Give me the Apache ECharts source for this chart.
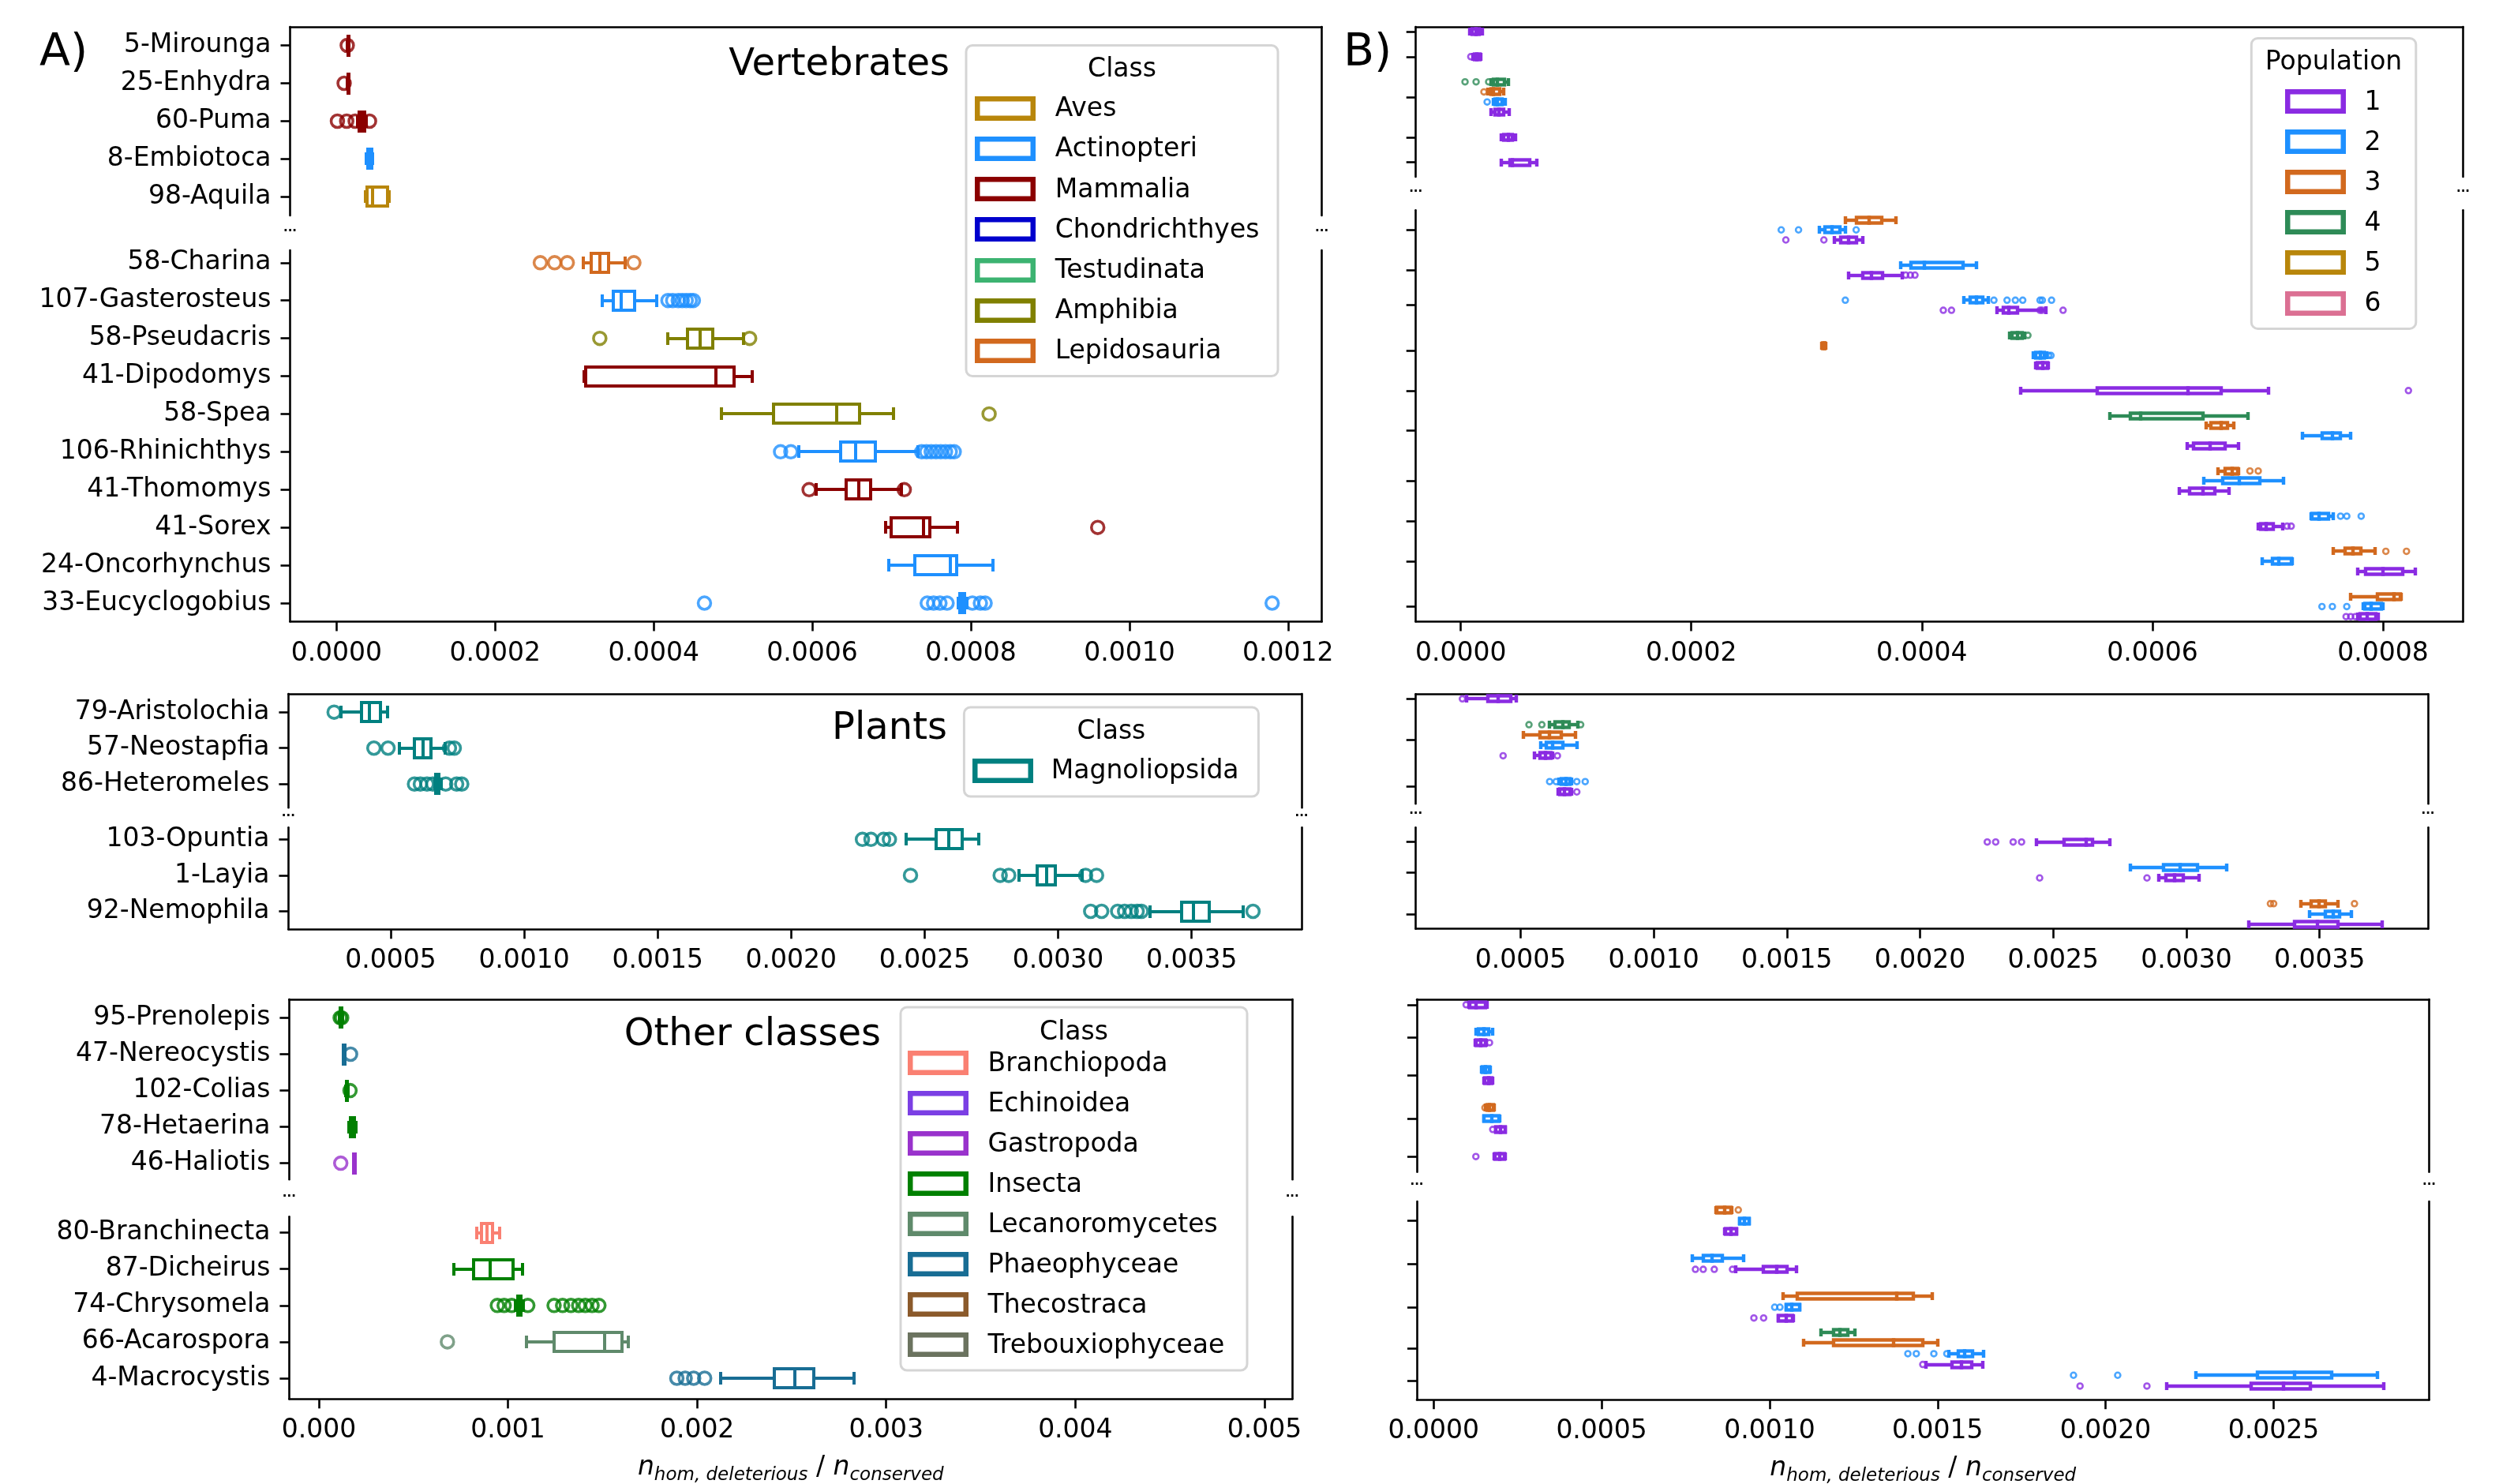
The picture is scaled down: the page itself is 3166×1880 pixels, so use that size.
<!DOCTYPE html>
<html>
<head>
<meta charset="utf-8">
<title>Homozygous deleterious load</title>
<script src="https://cdn.jsdelivr.net/npm/echarts@6/dist/echarts.min.js"></script>
<style>
  html, body { margin: 0; padding: 0; background: #fff; }
  #main { width: 3166px; height: 1880px; }
</style>
</head>
<body>
<div id="main"></div>
<script>
// ---------------- data ----------------
// Panel A: one box per species -> [min, q1, median, q3, max]
const vertTopNames = ['5-Mirounga', '25-Enhydra', '60-Puma', '8-Embiotoca', '98-Aquila'];
const vertTopClass = ['Mammalia', 'Mammalia', 'Mammalia', 'Actinopteri', 'Aves'];
const vertTopStats = [
  [0.0000140, 0.0000145, 0.0000150, 0.0000155, 0.0000160],
  [0.0000140, 0.0000145, 0.0000149, 0.0000152, 0.0000156],
  [0.0000270, 0.0000285, 0.0000320, 0.0000355, 0.0000375],
  [0.0000375, 0.0000390, 0.0000415, 0.0000440, 0.0000455],
  [0.0000365, 0.0000385, 0.0000450, 0.0000640, 0.0000665]
];
const vertTopOutliers = [
  [0.0000135],
  [0.0000096],
  [0.0000011, 0.0000128, 0.0000235, 0.0000416],
  [],
  []
];

const vertBotNames = ['58-Charina', '107-Gasterosteus', '58-Pseudacris', '41-Dipodomys', '58-Spea',
  '106-Rhinichthys', '41-Thomomys', '41-Sorex', '24-Oncorhynchus', '33-Eucyclogobius'];
const vertBotClass = ['Lepidosauria', 'Actinopteri', 'Amphibia', 'Mammalia', 'Amphibia',
  'Actinopteri', 'Mammalia', 'Mammalia', 'Actinopteri', 'Actinopteri'];
const vertBotStats = [
  [0.000311, 0.000321, 0.000332, 0.000343, 0.000364],
  [0.000335, 0.000349, 0.000359, 0.000376, 0.000404],
  [0.000418, 0.000443, 0.000459, 0.000474, 0.000513],
  [0.000312, 0.000314, 0.000478, 0.000501, 0.000524],
  [0.000485, 0.000551, 0.000631, 0.000660, 0.000702],
  [0.000583, 0.000636, 0.000655, 0.000680, 0.000733],
  [0.000605, 0.000643, 0.000659, 0.000674, 0.000712],
  [0.000692, 0.000699, 0.000740, 0.000748, 0.000783],
  [0.000696, 0.000729, 0.000774, 0.000782, 0.000828],
  [0.000784, 0.000786, 0.000790, 0.000792, 0.000795]
];
const vertBotOutliers = [
  [0.000257, 0.000275, 0.000291, 0.000375],
  [0.000418, 0.000424, 0.000431, 0.000436, 0.000441, 0.000446, 0.000450],
  [0.000332, 0.000521],
  [],
  [0.000823],
  [0.000560, 0.000573, 0.000738, 0.000744, 0.000750, 0.000756, 0.000762, 0.000768, 0.000774, 0.000779],
  [0.000596, 0.000716],
  [0.000960],
  [],
  [0.000464, 0.000745, 0.000753, 0.000761, 0.000770, 0.000802, 0.000812, 0.000818, 0.001180]
];

const plantTopNames = ['79-Aristolochia', '57-Neostapfia', '86-Heteromeles'];
const plantTopClass = ['Magnoliopsida', 'Magnoliopsida', 'Magnoliopsida'];
const plantTopStats = [
  [0.000313, 0.000392, 0.000421, 0.000462, 0.000487],
  [0.000532, 0.000589, 0.000620, 0.000652, 0.000705],
  [0.000665, 0.000669, 0.000674, 0.000680, 0.000688]
];
const plantTopOutliers = [
  [0.000288],
  [0.000437, 0.000490, 0.000720, 0.000738],
  [0.000589, 0.000611, 0.000636, 0.000658, 0.000706, 0.000747, 0.000766]
];

const plantBotNames = ['103-Opuntia', '1-Layia', '92-Nemophila'];
const plantBotClass = ['Magnoliopsida', 'Magnoliopsida', 'Magnoliopsida'];
const plantBotStats = [
  [0.002432, 0.002543, 0.002590, 0.002641, 0.002704],
  [0.002853, 0.002922, 0.002957, 0.002989, 0.003090],
  [0.003344, 0.003464, 0.003508, 0.003565, 0.003692]
];
const plantBotOutliers = [
  [0.002267, 0.002299, 0.002346, 0.002368],
  [0.002447, 0.002783, 0.002815, 0.003103, 0.003144],
  [0.003122, 0.003163, 0.003223, 0.003249, 0.003274, 0.003296, 0.003312, 0.003730]
];

const otherTopNames = ['95-Prenolepis', '47-Nereocystis', '102-Colias', '78-Hetaerina', '46-Haliotis'];
const otherTopClass = ['Insecta', 'Phaeophyceae', 'Insecta', 'Insecta', 'Gastropoda'];
const otherTopStats = [
  [0.000110, 0.000114, 0.000118, 0.000122, 0.000126],
  [0.000128, 0.000131, 0.000134, 0.000137, 0.000140],
  [0.000143, 0.000146, 0.000148, 0.000151, 0.000154],
  [0.000160, 0.000168, 0.000180, 0.000190, 0.000198],
  [0.000183, 0.000185, 0.000188, 0.000191, 0.000193]
];
const otherTopOutliers = [
  [0.000113, 0.000121],
  [0.000168],
  [0.000165],
  [],
  [0.000116]
];

const otherBotNames = ['80-Branchinecta', '87-Dicheirus', '74-Chrysomela', '66-Acarospora', '4-Macrocystis'];
const otherBotClass = ['Branchiopoda', 'Insecta', 'Insecta', 'Lecanoromycetes', 'Phaeophyceae'];
const otherBotStats = [
  [0.000835, 0.000860, 0.000890, 0.000920, 0.000955],
  [0.000716, 0.000819, 0.000908, 0.001025, 0.001078],
  [0.001040, 0.001052, 0.001060, 0.001068, 0.001080],
  [0.001100, 0.001244, 0.001512, 0.001602, 0.001638],
  [0.002125, 0.002407, 0.002519, 0.002617, 0.002832]
];
const otherBotOutliers = [
  [],
  [],
  [0.000944, 0.000980, 0.001020, 0.001105, 0.001244, 0.001289, 0.001333, 0.001374, 0.001409, 0.001445, 0.001481],
  [0.000680],
  [0.001893, 0.001937, 0.001982, 0.002040]
];

// Panel B: one box per population -> [species, population, min, q1, median, q3, max]
const popVertTop = [
  [0, 1, 0.0000076, 0.0000100, 0.0000133, 0.0000160, 0.0000190],
  [1, 1, 0.0000105, 0.0000120, 0.0000140, 0.0000165, 0.0000174],
  [2, 4, 0.0000260, 0.0000280, 0.0000320, 0.0000380, 0.0000410],
  [2, 3, 0.0000235, 0.0000260, 0.0000285, 0.0000340, 0.0000370],
  [2, 2, 0.0000280, 0.0000300, 0.0000320, 0.0000360, 0.0000388],
  [2, 1, 0.0000260, 0.0000294, 0.0000330, 0.0000374, 0.0000420],
  [3, 1, 0.0000350, 0.0000370, 0.0000412, 0.0000450, 0.0000475],
  [4, 1, 0.0000350, 0.0000430, 0.0000450, 0.0000600, 0.0000658]
];
// [species, population, value]
const popVertTopOut = [
  [1, 1, 0.0000087], [2, 4, 0.0000037], [2, 4, 0.0000133], [2, 4, 0.0000242],
  [2, 3, 0.0000201], [2, 2, 0.0000229]
];

const popVertBot = [
  [0, 3, 0.0003336, 0.0003436, 0.0003543, 0.0003650, 0.0003775],
  [0, 2, 0.0003113, 0.0003160, 0.0003220, 0.0003290, 0.0003335],
  [0, 1, 0.0003238, 0.0003293, 0.0003364, 0.0003436, 0.0003488],
  [1, 2, 0.0003818, 0.0003907, 0.0004020, 0.0004357, 0.0004471],
  [1, 1, 0.0003364, 0.0003489, 0.0003561, 0.0003661, 0.0003830],
  [2, 2, 0.0004364, 0.0004418, 0.0004471, 0.0004525, 0.0004579],
  [2, 1, 0.0004650, 0.0004704, 0.0004757, 0.0004829, 0.0005079],
  [3, 4, 0.0004760, 0.0004780, 0.0004830, 0.0004870, 0.0004890],
  [3, 3, 0.0003132, 0.0003138, 0.0003150, 0.0003162, 0.0003168],
  [3, 2, 0.0004970, 0.0004990, 0.0005025, 0.0005060, 0.0005080],
  [3, 1, 0.0004990, 0.0005000, 0.0005050, 0.0005090, 0.0005100],
  [4, 1, 0.0004854, 0.0005518, 0.0006311, 0.0006596, 0.0007007],
  [5, 4, 0.0005632, 0.0005811, 0.0005900, 0.0006436, 0.0006829],
  [5, 3, 0.0006464, 0.0006507, 0.0006596, 0.0006650, 0.0006704],
  [5, 2, 0.0007304, 0.0007471, 0.0007561, 0.0007632, 0.0007721],
  [5, 1, 0.0006300, 0.0006357, 0.0006500, 0.0006632, 0.0006750],
  [6, 3, 0.0006568, 0.0006632, 0.0006693, 0.0006740, 0.0006750],
  [6, 2, 0.0006446, 0.0006607, 0.0006757, 0.0006929, 0.0007139],
  [6, 1, 0.0006232, 0.0006321, 0.0006436, 0.0006543, 0.0006668],
  [7, 2, 0.0007375, 0.0007385, 0.0007443, 0.0007525, 0.0007571],
  [7, 1, 0.0006918, 0.0006936, 0.0006989, 0.0007050, 0.0007132],
  [8, 3, 0.0007568, 0.0007668, 0.0007739, 0.0007811, 0.0007929],
  [8, 2, 0.0006954, 0.0007043, 0.0007096, 0.0007204, 0.0007211],
  [8, 1, 0.0007782, 0.0007846, 0.0008000, 0.0008168, 0.0008282],
  [9, 3, 0.0007721, 0.0007954, 0.0008096, 0.0008150, 0.0008160],
  [9, 2, 0.0007829, 0.0007845, 0.0007900, 0.0007989, 0.0008000],
  [9, 1, 0.0007780, 0.0007800, 0.0007860, 0.0007940, 0.0007960]
];
const popVertBotOut = [
  [0, 2, 0.000278], [0, 2, 0.000293], [0, 2, 0.000343], [0, 1, 0.000282], [0, 1, 0.000315],
  [1, 1, 0.000386], [1, 1, 0.000390], [1, 1, 0.000394],
  [2, 2, 0.0003336], [2, 2, 0.0004625], [2, 2, 0.0004739], [2, 2, 0.0004811], [2, 2, 0.0004875],
  [2, 2, 0.0005025], [2, 2, 0.0005045], [2, 2, 0.0005125],
  [2, 1, 0.0004186], [2, 1, 0.0004257], [2, 1, 0.0005025], [2, 1, 0.0005043], [2, 1, 0.0005225],
  [3, 4, 0.000492], [3, 2, 0.000510], [3, 2, 0.000512],
  [4, 1, 0.0008221],
  [6, 3, 0.0006846], [6, 3, 0.0006918],
  [7, 2, 0.0007632], [7, 2, 0.0007686], [7, 2, 0.0007811], [7, 1, 0.0007168], [7, 1, 0.0007204],
  [8, 3, 0.0008025], [8, 3, 0.0008204],
  [9, 2, 0.0007471], [9, 2, 0.0007561], [9, 2, 0.0007686],
  [9, 1, 0.000768], [9, 1, 0.000772], [9, 1, 0.000776]
];

const popPlantTop = [
  [0, 1, 0.0002985, 0.0003786, 0.0004150, 0.0004636, 0.0004830],
  [1, 4, 0.0006092, 0.0006286, 0.0006578, 0.0006820, 0.0007150],
  [1, 3, 0.0005121, 0.0005728, 0.0006092, 0.0006529, 0.0007063],
  [1, 2, 0.0005752, 0.0005971, 0.0006214, 0.0006578, 0.0007112],
  [1, 1, 0.0005510, 0.0005728, 0.0005922, 0.0006141, 0.0006214],
  [2, 2, 0.0006450, 0.0006529, 0.0006699, 0.0006869, 0.0006900],
  [2, 1, 0.0006400, 0.0006456, 0.0006650, 0.0006869, 0.0006900]
];
const popPlantTopOut = [
  [0, 1, 0.0002816],
  [1, 4, 0.0005316], [1, 4, 0.0005801], [1, 4, 0.0007257],
  [1, 1, 0.0004345], [1, 1, 0.0006384],
  [2, 2, 0.0006092], [2, 2, 0.0006335], [2, 2, 0.0007112], [2, 2, 0.0007427],
  [2, 1, 0.0007112]
];

const popPlantBot = [
  [0, 1, 0.0024370, 0.0025413, 0.0026238, 0.0026480, 0.0027136],
  [1, 2, 0.0027888, 0.0029151, 0.0029757, 0.0030413, 0.0031505],
  [1, 1, 0.0028957, 0.0029224, 0.0029563, 0.0029879, 0.0030486],
  [2, 3, 0.0034297, 0.0034685, 0.0034976, 0.0035218, 0.0035704],
  [2, 2, 0.0034636, 0.0035218, 0.0035510, 0.0035752, 0.0036190],
  [2, 1, 0.0032355, 0.0034054, 0.0034927, 0.0035704, 0.0037355]
];
const popPlantBotOut = [
  [0, 1, 0.0022524], [0, 1, 0.0022840], [0, 1, 0.0023495], [0, 1, 0.0023811],
  [1, 1, 0.0024490], [1, 1, 0.0028520],
  [2, 3, 0.0033155], [2, 3, 0.0033277], [2, 3, 0.0036311]
];

const popOtherTop = [
  [0, 1, 0.0001050, 0.0001083, 0.0001257, 0.0001547, 0.0001580],
  [1, 2, 0.0001257, 0.0001334, 0.0001489, 0.0001643, 0.0001760],
  [1, 1, 0.0001240, 0.0001257, 0.0001392, 0.0001547, 0.0001560],
  [2, 2, 0.0001430, 0.0001450, 0.0001550, 0.0001663, 0.0001680],
  [2, 1, 0.0001500, 0.0001527, 0.0001630, 0.0001740, 0.0001760],
  [3, 3, 0.0001550, 0.0001580, 0.0001660, 0.0001780, 0.0001800],
  [3, 2, 0.0001490, 0.0001508, 0.0001730, 0.0001953, 0.0001970],
  [3, 1, 0.0001840, 0.0001856, 0.0002000, 0.0002127, 0.0002140],
  [4, 1, 0.0001800, 0.0001817, 0.0001960, 0.0002108, 0.0002120]
];
const popOtherTopOut = [
  [0, 1, 0.0000967], [1, 1, 0.0001663], [3, 3, 0.0001527], [3, 1, 0.0001759], [4, 1, 0.0001257]
];

const popOtherBot = [
  [0, 3, 0.0008400, 0.0008430, 0.0008662, 0.0008855, 0.0008880],
  [0, 2, 0.0009100, 0.0009107, 0.0009250, 0.0009397, 0.0009400],
  [0, 1, 0.0008670, 0.0008681, 0.0008850, 0.0009010, 0.0009020],
  [1, 2, 0.0007695, 0.0008024, 0.0008275, 0.0008585, 0.0009223],
  [1, 1, 0.0008991, 0.0009822, 0.0010209, 0.0010518, 0.0010790],
  [2, 3, 0.0010402, 0.0010828, 0.0013786, 0.0014269, 0.0014849],
  [2, 2, 0.0010499, 0.0010500, 0.0010654, 0.0010886, 0.0010900],
  [2, 1, 0.0010267, 0.0010270, 0.0010499, 0.0010692, 0.0010700],
  [3, 4, 0.0011524, 0.0011910, 0.0012104, 0.0012336, 0.0012529],
  [3, 3, 0.0011021, 0.0011910, 0.0013689, 0.0014559, 0.0015004],
  [3, 2, 0.0015333, 0.0015623, 0.0015816, 0.0016048, 0.0016357],
  [3, 1, 0.0014656, 0.0015430, 0.0015720, 0.0016010, 0.0016338],
  [4, 2, 0.0022680, 0.0024517, 0.0025619, 0.0026740, 0.0028094],
  [4, 1, 0.0021810, 0.0024323, 0.0025290, 0.0026102, 0.0028287]
];
const popOtherBotOut = [
  [0, 3, 0.0009068],
  [1, 1, 0.0007792], [1, 1, 0.0008024], [1, 1, 0.0008353], [1, 1, 0.0008894],
  [2, 2, 0.0010151], [2, 2, 0.0010306], [2, 1, 0.0009532], [2, 1, 0.0009822],
  [3, 2, 0.0014115], [3, 2, 0.0014366], [3, 2, 0.0014888], [3, 2, 0.0015275], [3, 1, 0.0014559],
  [4, 2, 0.0019045], [4, 2, 0.0020360], [4, 1, 0.0019239], [4, 1, 0.0021230]
];

// legend entries and axis ticks
const vertClasses = ['Aves', 'Actinopteri', 'Mammalia', 'Chondrichthyes', 'Testudinata', 'Amphibia', 'Lepidosauria'];
const plantClasses = ['Magnoliopsida'];
const otherClasses = ['Branchiopoda', 'Echinoidea', 'Gastropoda', 'Insecta', 'Lecanoromycetes', 'Phaeophyceae', 'Thecostraca', 'Trebouxiophyceae'];
const populations = ['1', '2', '3', '4', '5', '6'];

const ticksVert = [0, 0.0002, 0.0004, 0.0006, 0.0008, 0.0010, 0.0012];
const ticksPlant = [0.0005, 0.0010, 0.0015, 0.0020, 0.0025, 0.0030, 0.0035];
const ticksOther = [0, 0.001, 0.002, 0.003, 0.004, 0.005];
const ticksPopVert = [0, 0.0002, 0.0004, 0.0006, 0.0008];
const ticksPopPlant = [0.0005, 0.0010, 0.0015, 0.0020, 0.0025, 0.0030, 0.0035];
const ticksPopOther = [0, 0.0005, 0.0010, 0.0015, 0.0020, 0.0025];

// ---------------- styles ----------------
const FONT = 'DejaVu Sans';
const classColor = {
  Aves: '#b8860b', Actinopteri: '#1e90ff', Mammalia: '#8b0000', Chondrichthyes: '#0000cd',
  Testudinata: '#3cb371', Amphibia: '#808000', Lepidosauria: '#d2691e',
  Magnoliopsida: '#008080',
  Branchiopoda: '#fa8072', Echinoidea: '#7b3fe4', Gastropoda: '#9932cc', Insecta: '#008000',
  Lecanoromycetes: '#5f8a6b', Phaeophyceae: '#186d94', Thecostraca: '#8b5a2b', Trebouxiophyceae: '#6b735f'
};
const popColor = { 1: '#8a2be2', 2: '#1e90ff', 3: '#d2691e', 4: '#2e8b57', 5: '#b8860b', 6: '#db7093' };
// lw: stroke width; box: box height (centre of top edge to centre of bottom edge); ring: outlier ring width
const sizeA = { lw: 4, box: 24, cap: 16, dot: 19.5, ring: 3.6 };
const sizeB = { lw: 4.4, box: 7, cap: 10, dot: 9.5, ring: 2.6 };
const spine = { color: '#000', width: 2.6 };
const tickFont = { fontSize: 33, fontFamily: FONT, color: '#000' };

// open circle as a filled ring path (inner radius set by ring width)
function ringSymbol(s) {
  const ri = (50 * (1 - 2 * s.ring / s.dot)).toFixed(2);
  const a = (50 - ri).toFixed(2), b = (50 + +ri).toFixed(2);
  return 'path://M50,0 A50,50 0 1,1 50,100 A50,50 0 1,1 50,0 Z ' +
    'M50,' + a + ' A' + ri + ',' + ri + ' 0 1,0 50,' + b + ' A' + ri + ',' + ri + ' 0 1,0 50,' + a + ' Z';
}

// ---------------- layout helpers ----------------
// y positions of population boxes: pops of a species stacked, species separated by a gap
function popLayout(boxes, nSpecies, gaps) {
  const slot = {}, centers = [];
  let pos = 0;
  for (let s = 0; s < nSpecies; s++) {
    const pops = [...new Set(boxes.filter(b => b[0] === s).map(b => b[1]))].sort((a, b) => b - a);
    if (s > 0) pos += gaps ? gaps[s - 1] : 2.5;
    pops.forEach((p, i) => { slot[s + '_' + p] = pos + i; });
    centers.push(pos + (pops.length - 1) / 2);
    pos += pops.length - 1;
  }
  return { slot, centers };
}

function speciesPart(names, cls, stats, outs) {
  return {
    yTicks: names.map((_, i) => i),
    yLabels: names,
    boxData: stats.map((s, i) => [i].concat(s)),
    boxColors: cls.map(c => classColor[c]),
    outData: outs.flatMap((arr, i) => arr.map(v => ({ value: [v, i], itemStyle: { color: classColor[cls[i]] } }))),
    size: sizeA
  };
}

function popPart(boxes, outs, nSpecies, gaps) {
  const lay = popLayout(boxes, nSpecies, gaps);
  return {
    yTicks: lay.centers,
    yLabels: null,
    boxData: boxes.map(b => [lay.slot[b[0] + '_' + b[1]]].concat(b.slice(2))),
    boxColors: boxes.map(b => popColor[b[1]]),
    outData: outs.map(o => ({ value: [o[2], lay.slot[o[0] + '_' + o[1]]], itemStyle: { color: popColor[o[1]] } })),
    size: sizeB
  };
}

// box + whiskers built from filled bars
function boxRenderer(colors, s) {
  return function (params, api) {
    const yv = api.value(0);
    const px = k => Math.round(api.coord([api.value(k), yv])[0]);
    const xMin = px(1), xQ1 = px(2), xMed = px(3), xQ3 = px(4), xMax = px(5);
    const yc = Math.round(api.coord([api.value(1), yv])[1]);
    const c = colors[params.dataIndex];
    const hw = s.lw / 2, bh = s.box / 2, ch = s.cap / 2;
    const bar = (x, y, w, h, fill) => ({ type: 'rect', shape: { x, y, width: w, height: h }, style: { fill } });
    const parts = [
      bar(xMin, yc - hw, Math.max(xQ1 - xMin, 0), s.lw, c),
      bar(xQ3, yc - hw, Math.max(xMax - xQ3, 0), s.lw, c),
      bar(xMin - hw, yc - ch, s.lw, s.cap, c),
      bar(xMax - hw, yc - ch, s.lw, s.cap, c),
      bar(xQ1 - hw, yc - bh - hw, xQ3 - xQ1 + s.lw, s.box + s.lw, c)
    ];
    if (xQ3 - xQ1 > s.lw) parts.push(bar(xQ1 + hw, yc - bh + hw, xQ3 - xQ1 - s.lw, s.box - s.lw, '#fff'));
    parts.push(bar(xMed - hw, yc - bh - hw, s.lw, s.box + s.lw, c));
    return { type: 'group', children: parts };
  };
}

const axisName = {
  name: '{i|n}{s|hom, deleterious}{t| / }{i|n}{s|conserved}',
  nameLocation: 'middle',
  nameGap: 67,
  nameTextStyle: {
    rich: {
      i: { fontSize: 33, fontStyle: 'italic', fontFamily: FONT, color: '#000' },
      s: { fontSize: 23, fontStyle: 'italic', fontFamily: FONT, color: '#000', padding: [18, 0, 0, 0] },
      t: { fontSize: 33, fontFamily: FONT, color: '#000' }
    }
  }
};

// [left, top, right, bottom] of every sub-axes, value ranges shown
const subplots = [
  Object.assign(speciesPart(vertTopNames, vertTopClass, vertTopStats, vertTopOutliers),
    { rect: [367.5, 34, 1674.6, 273], x: [-0.0000586, 0.0012426], y: [-0.49, 4.49], lower: false }),
  Object.assign(speciesPart(vertBotNames, vertBotClass, vertBotStats, vertBotOutliers),
    { rect: [367.5, 317, 1674.6, 787.5], x: [-0.0000586, 0.0012426], y: [-0.33, 9.49], lower: true, ticks: ticksVert, dec: 4 }),
  Object.assign(speciesPart(plantTopNames, plantTopClass, plantTopStats, plantTopOutliers),
    { rect: [365.4, 879, 1649, 1023.3], x: [0.0001168, 0.003912], y: [-0.51, 2.66], lower: false }),
  Object.assign(speciesPart(plantBotNames, plantBotClass, plantBotStats, plantBotOutliers),
    { rect: [365.4, 1048.3, 1649, 1177.3], x: [0.0001168, 0.003912], y: [-0.33, 2.5], lower: true, ticks: ticksPlant, dec: 4 }),
  Object.assign(speciesPart(otherTopNames, otherTopClass, otherTopStats, otherTopOutliers),
    { rect: [366.4, 1266, 1637.2, 1494.3], x: [-0.0001565, 0.005147], y: [-0.51, 4.45], lower: false }),
  Object.assign(speciesPart(otherBotNames, otherBotClass, otherBotStats, otherBotOutliers),
    { rect: [366.4, 1541.3, 1637.2, 1772.3], x: [-0.0001565, 0.005147], y: [-0.44, 4.57], lower: true, ticks: ticksOther, dec: 3, named: true }),

  Object.assign(popPart(popVertTop, popVertTopOut, vertTopNames.length),
    { rect: [1793.7, 34, 3120.5, 224], x: [-0.000039, 0.0008695], y: [-0.47, 14.44], lower: false }),
  Object.assign(popPart(popVertBot, popVertBotOut, vertBotNames.length),
    { rect: [1793.7, 266.2, 3120.5, 787.5], x: [-0.000039, 0.0008695], y: [-0.97, 40.0], lower: true, ticks: ticksPopVert, dec: 4 }),
  Object.assign(popPart(popPlantTop, popPlantTopOut, plantTopNames.length),
    { rect: [1793.7, 879.3, 3076, 1018.3], x: [0.0001067, 0.003907], y: [-0.46, 10.15], lower: false }),
  Object.assign(popPart(popPlantBot, popPlantBotOut, plantBotNames.length),
    { rect: [1793.7, 1048.3, 3076, 1176.7], x: [0.0001067, 0.003907], y: [-1.41, 8.45], lower: true, ticks: ticksPopPlant, dec: 4 }),
  Object.assign(popPart(popOtherTop, popOtherTopOut, otherTopNames.length),
    { rect: [1795, 1266.1, 3077.5, 1484.8], x: [-0.00005, 0.002963], y: [-0.49, 15.43], lower: false }),
  Object.assign(popPart(popOtherBot, popOtherBotOut, otherBotNames.length, [2.5, 2.5, 1.3, 1.0]),
    { rect: [1795, 1522, 3077.5, 1773.2], x: [-0.00005, 0.002963], y: [-0.79, 17.56], lower: true, ticks: ticksPopOther, dec: 4, named: true })
];

// ---------------- build option ----------------
const grid = [], xAxis = [], yAxis = [], series = [], graphic = [];

subplots.forEach(sp => {
  const gi = grid.length;
  grid.push({ left: sp.rect[0], top: sp.rect[1], width: sp.rect[2] - sp.rect[0], height: sp.rect[3] - sp.rect[1],
    containLabel: false, outerBoundsMode: 'none' });
  const xi = xAxis.length;
  xAxis.push(Object.assign({
    gridIndex: gi, type: 'value', position: 'bottom', min: sp.x[0], max: sp.x[1],
    axisLine: { show: sp.lower, onZero: false, lineStyle: spine },
    axisTick: { show: sp.lower, customValues: sp.ticks, length: 12, lineStyle: spine },
    axisLabel: Object.assign({ show: sp.lower, customValues: sp.ticks, margin: 24,
      formatter: v => v.toFixed(sp.dec) }, tickFont),
    splitLine: { show: false }
  }, sp.named ? axisName : {}));
  if (!sp.lower) {
    xAxis.push({ gridIndex: gi, type: 'value', position: 'top', min: 0, max: 1,
      axisLine: { show: true, onZero: false, lineStyle: spine },
      axisTick: { show: false }, axisLabel: { show: false }, splitLine: { show: false } });
  }
  const yi = yAxis.length;
  yAxis.push({
    gridIndex: gi, type: 'value', inverse: true, min: sp.y[0], max: sp.y[1],
    axisLine: { show: true, onZero: false, lineStyle: spine },
    axisTick: { show: true, customValues: sp.yTicks, length: 12, lineStyle: spine },
    axisLabel: Object.assign({ show: !!sp.yLabels, customValues: sp.yTicks, margin: 24,
      formatter: v => (sp.yLabels ? sp.yLabels[Math.round(v)] : '') }, tickFont),
    splitLine: { show: false }
  });
  yAxis.push({ gridIndex: gi, type: 'value', position: 'right', min: 0, max: 1,
    axisLine: { show: true, onZero: false, lineStyle: spine },
    axisTick: { show: false }, axisLabel: { show: false }, splitLine: { show: false } });

  series.push({
    type: 'custom', xAxisIndex: xi, yAxisIndex: yi, silent: true, z: 2,
    renderItem: boxRenderer(sp.boxColors, sp.size),
    encode: { x: [1, 2, 3, 4, 5], y: 0 },
    data: sp.boxData
  });
  series.push({
    type: 'scatter', xAxisIndex: xi, yAxisIndex: yi, silent: true, z: 3,
    symbol: ringSymbol(sp.size), symbolSize: sp.size.dot,
    data: sp.outData
  });
});

// "..." marks at the axis breaks
for (let k = 0; k < subplots.length; k += 2) {
  const up = subplots[k].rect, lo = subplots[k + 1].rect;
  const ym = (up[3] + lo[1]) / 2;
  [up[0], up[2]].forEach(x => graphic.push({
    type: 'text', x: x, y: ym - 6, z: 5,
    style: { text: '...', fontSize: 15, fontWeight: 'bold', fontFamily: FONT, fill: '#000',
      align: 'center', textAlign: 'center', verticalAlign: 'middle', textVerticalAlign: 'middle' }
  }));
}

function label(text, x, y, size, align) {
  return { type: 'text', x: x, y: y, z: 6,
    style: { text: text, fontSize: size, fontFamily: FONT, fill: '#000',
      align: align, textAlign: align, verticalAlign: 'middle', textVerticalAlign: 'middle' } };
}
graphic.push(label('A)', 50, 68, 57, 'left'));
graphic.push(label('B)', 1702, 68, 57, 'left'));
graphic.push(label('Vertebrates', 1203, 82.5, 48, 'right'));
graphic.push(label('Plants', 1200, 923.5, 48, 'right'));
graphic.push(label('Other classes', 1116, 1312, 48, 'right'));

// legends: frame, title, and one outlined patch + name per entry
const legendSpecs = [
  { names: vertClasses, colors: vertClasses.map(c => classColor[c]), title: 'Class',
    box: [1224, 57.5, 395, 419], titleY: 88.7, firstY: 138.7, pitch: 51.2, iconLeft: 1235, textLeft: 1336.7 },
  { names: plantClasses, colors: plantClasses.map(c => classColor[c]), title: 'Class',
    box: [1221.4, 896, 373, 113], titleY: 927, firstY: 977.8, pitch: 51.2, iconLeft: 1232, textLeft: 1331.8 },
  { names: otherClasses, colors: otherClasses.map(c => classColor[c]), title: 'Class',
    box: [1141, 1276, 439, 460], titleY: 1308.2, firstY: 1348.4, pitch: 51, iconLeft: 1150, textLeft: 1251.5 },
  { names: populations, colors: populations.map(p => popColor[p]), title: 'Population',
    box: [2852.3, 48.4, 208.5, 368], titleY: 79.2, firstY: 130, pitch: 51.1, iconLeft: 2895, textLeft: 2995.4 }
];
legendSpecs.forEach(L => {
  graphic.push({ type: 'rect', z: 4,
    shape: { x: L.box[0], y: L.box[1], width: L.box[2], height: L.box[3], r: 8 },
    style: { fill: 'rgba(255,255,255,0.8)', stroke: '#d5d5d5', lineWidth: 3 } });
  graphic.push(label(L.title, L.box[0] + L.box[2] / 2, L.titleY, 33, 'center'));
  L.names.forEach((n, i) => {
    const top = Math.round(L.firstY + i * L.pitch - 17);
    graphic.push({ type: 'rect', z: 5, shape: { x: L.iconLeft, y: top, width: 77, height: 31 },
      style: { fill: L.colors[i] } });
    graphic.push({ type: 'rect', z: 5, shape: { x: L.iconLeft + 6.5, y: top + 6.5, width: 64, height: 18 },
      style: { fill: '#fff' } });
    graphic.push(label(n, L.textLeft, L.firstY + i * L.pitch, 33, 'left'));
  });
});

const chart = echarts.init(document.getElementById('main'));
chart.setOption({
  animation: false,
  backgroundColor: '#fff',
  textStyle: { fontFamily: FONT },
  grid: grid,
  xAxis: xAxis,
  yAxis: yAxis,
  graphic: graphic,
  series: series
});
</script>
</body>
</html>
